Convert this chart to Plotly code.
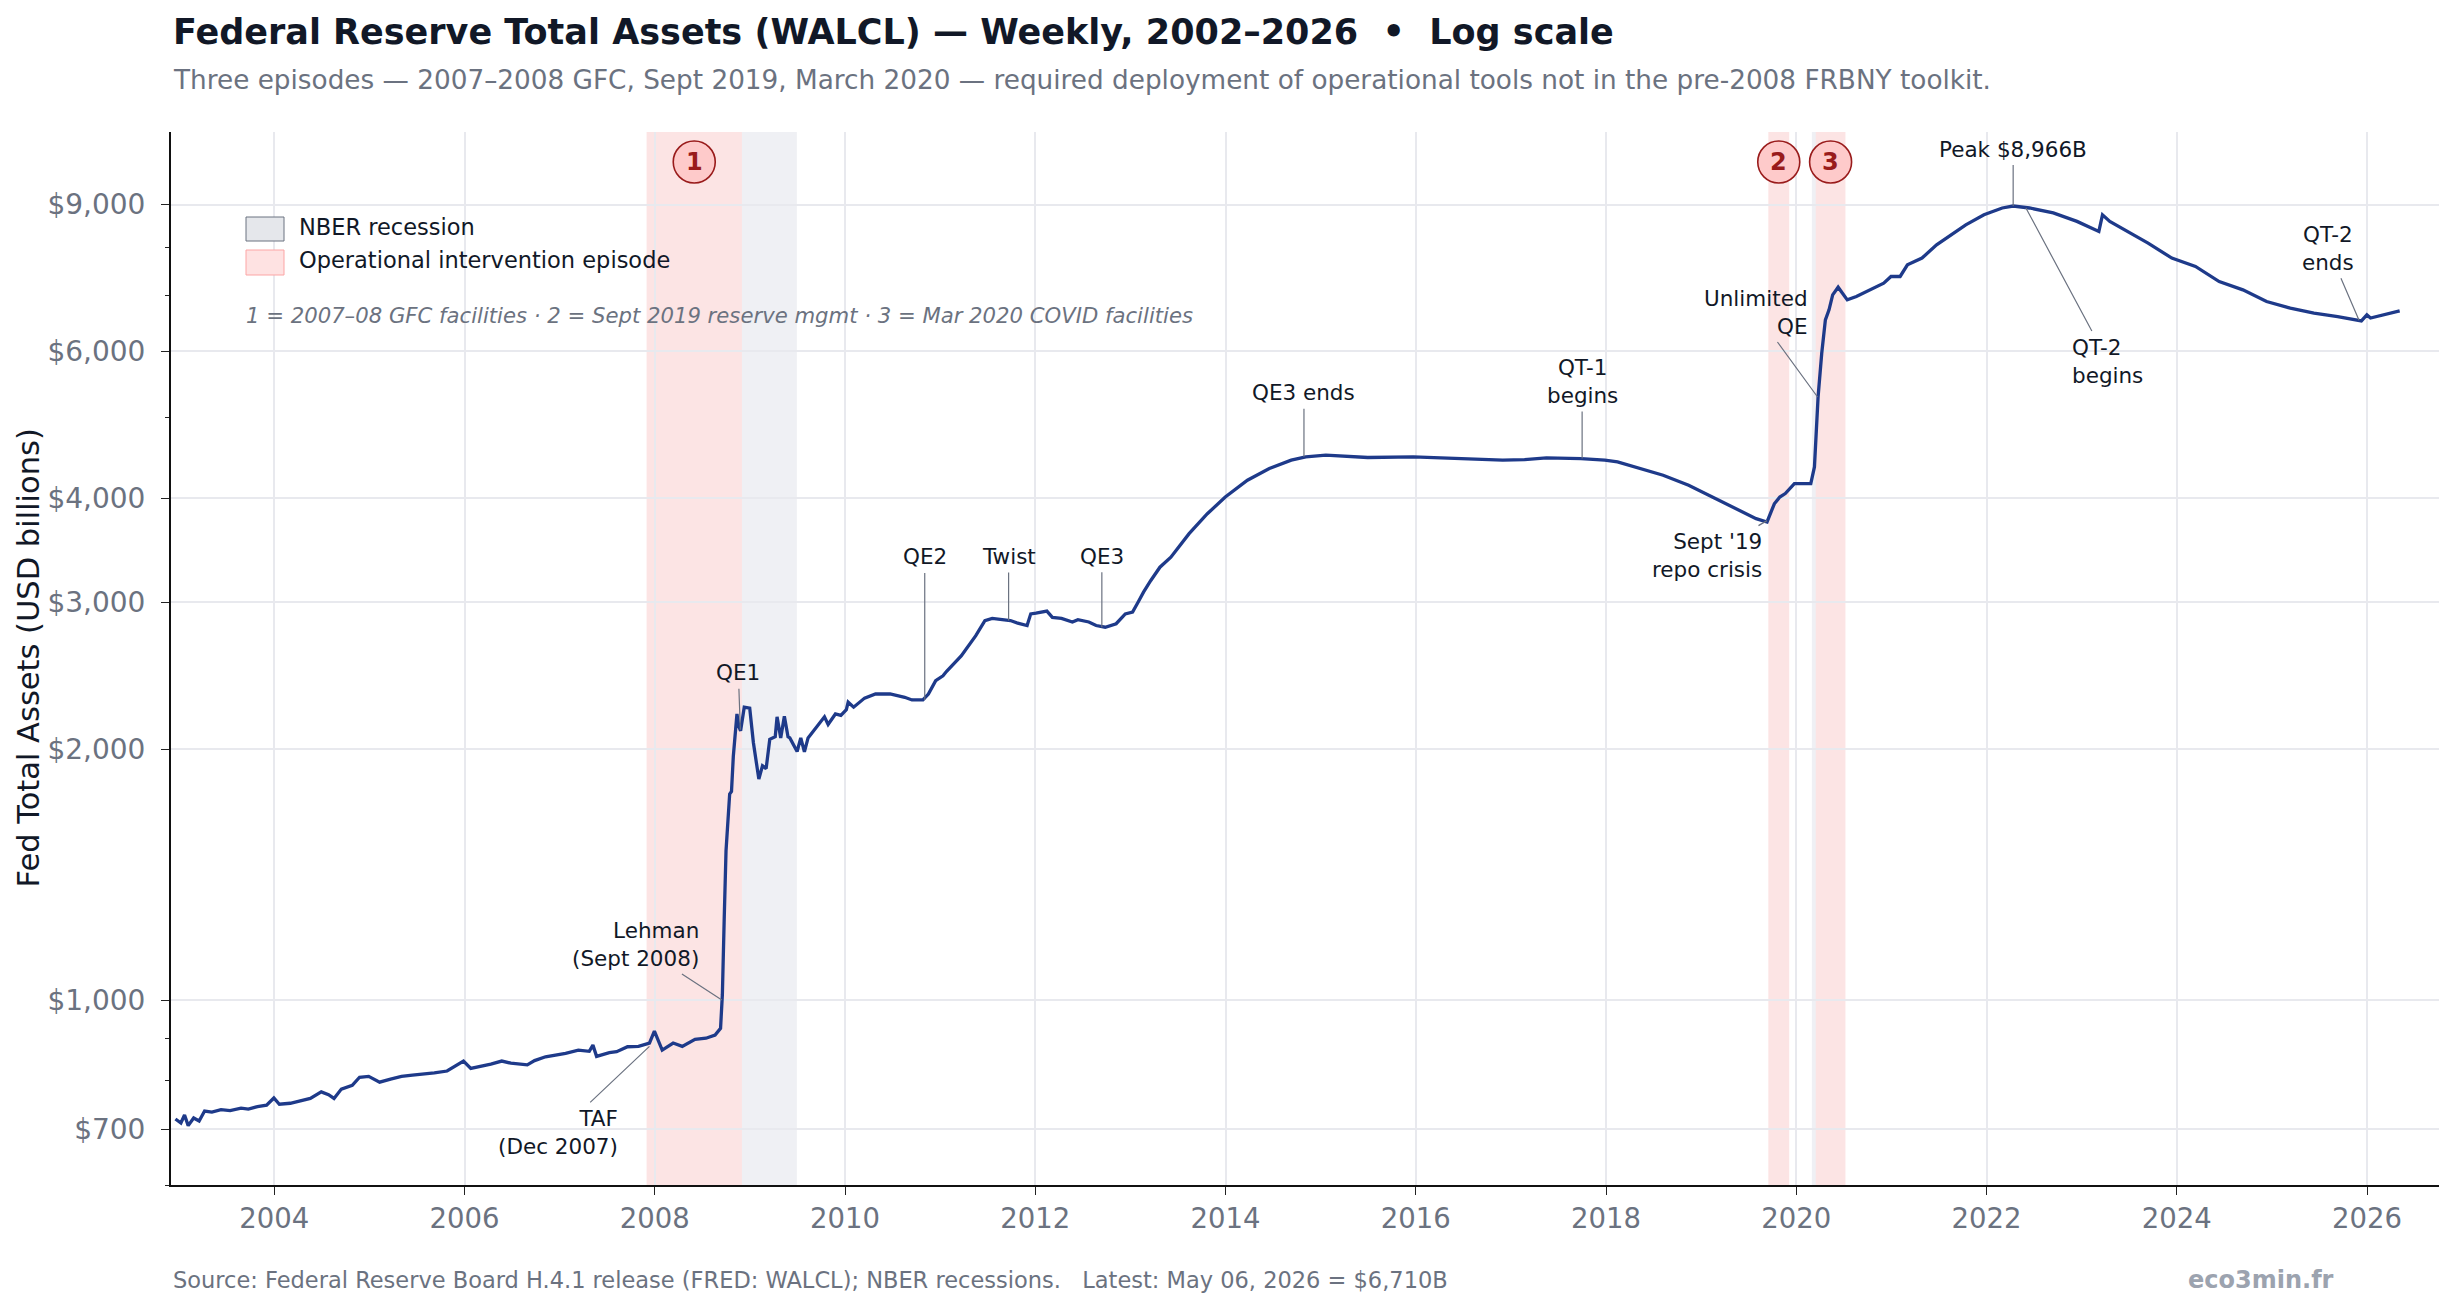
import math
import plotly.graph_objects as go

# ---------------- data (USD billions, weekly WALCL) ----------------
dates = [
    "2002-12-18", "2003-01-08", "2003-01-22", "2003-02-05", "2003-02-26", "2003-03-19",
    "2003-04-09", "2003-05-07", "2003-06-11", "2003-07-16", "2003-08-27", "2003-09-24",
    "2003-10-29", "2003-12-03", "2003-12-31", "2004-01-21", "2004-03-03", "2004-04-14",
    "2004-05-19", "2004-06-30", "2004-07-28", "2004-08-18", "2004-09-15", "2004-10-27",
    "2004-11-24", "2004-12-29", "2005-02-09", "2005-03-23", "2005-05-04", "2005-06-15",
    "2005-07-27", "2005-09-07", "2005-10-26", "2005-12-28", "2006-01-25", "2006-03-15",
    "2006-04-12", "2006-05-24", "2006-06-28", "2006-08-30", "2006-09-27", "2006-11-08",
    "2006-12-27", "2007-01-24", "2007-03-14", "2007-04-25", "2007-05-09", "2007-05-23",
    "2007-07-11", "2007-08-08", "2007-09-19", "2007-10-31", "2007-12-12", "2007-12-31",
    "2008-01-30", "2008-03-12", "2008-04-16", "2008-06-04", "2008-07-16", "2008-08-20",
    "2008-09-10", "2008-09-17", "2008-09-24", "2008-10-01", "2008-10-15", "2008-10-22",
    "2008-10-29", "2008-11-12", "2008-11-19", "2008-11-26", "2008-12-10", "2008-12-31",
    "2009-01-14", "2009-01-28", "2009-02-04", "2009-02-18", "2009-03-04", "2009-03-18",
    "2009-04-08", "2009-04-15", "2009-04-29", "2009-05-13", "2009-05-27", "2009-06-03",
    "2009-07-01", "2009-07-15", "2009-07-29", "2009-08-12", "2009-09-16", "2009-10-14",
    "2009-10-28", "2009-11-25", "2009-12-16", "2010-01-06", "2010-01-13", "2010-02-03",
    "2010-03-17", "2010-04-28", "2010-06-23", "2010-08-18", "2010-09-15", "2010-10-27",
    "2010-11-17", "2010-12-15", "2011-01-12", "2011-01-26", "2011-03-23", "2011-05-18",
    "2011-06-22", "2011-07-20", "2011-09-28", "2011-10-26", "2011-12-01", "2011-12-15",
    "2012-01-04", "2012-02-15", "2012-03-07", "2012-04-11", "2012-05-23", "2012-06-13",
    "2012-07-25", "2012-08-22", "2012-09-26", "2012-11-07", "2012-12-12", "2013-01-09",
    "2013-01-30", "2013-02-20", "2013-03-20", "2013-04-24", "2013-06-05", "2013-08-14",
    "2013-10-23", "2013-12-31", "2014-03-26", "2014-06-18", "2014-09-10", "2014-11-05",
    "2015-01-21", "2015-07-01", "2015-12-23", "2016-06-08", "2016-11-30", "2017-02-22",
    "2017-05-17", "2017-09-27", "2017-12-27", "2018-02-14", "2018-04-25", "2018-08-08",
    "2018-11-14", "2019-02-27", "2019-05-22", "2019-07-31", "2019-09-11", "2019-09-25",
    "2019-10-09", "2019-10-30", "2019-11-20", "2019-12-25", "2020-02-26", "2020-03-11",
    "2020-03-25", "2020-04-08", "2020-04-22", "2020-05-06", "2020-05-20", "2020-06-10",
    "2020-07-15", "2020-08-19", "2020-10-14", "2020-12-02", "2020-12-30", "2021-02-03",
    "2021-03-03", "2021-04-28", "2021-06-23", "2021-08-18", "2021-10-13", "2021-12-22",
    "2022-03-02", "2022-04-13", "2022-06-15", "2022-09-14", "2022-12-14", "2023-03-08",
    "2023-03-22", "2023-04-19", "2023-06-14", "2023-09-13", "2023-12-13", "2024-03-13",
    "2024-06-12", "2024-09-11", "2024-12-11", "2025-03-12", "2025-06-11", "2025-09-10",
    "2025-12-10", "2025-12-31", "2026-01-14", "2026-03-11", "2026-05-06",
]
values = [
    720, 712, 728, 707, 722, 716,
    736, 734, 739, 737, 742, 740,
    745, 748, 763, 750, 752, 758,
    762, 776, 770, 762, 782, 790,
    808, 810, 797, 804, 810, 813,
    815, 818, 822, 845, 828, 834,
    838, 845, 840, 836, 846, 855,
    860, 863, 871, 868, 883, 856,
    865, 867, 879, 880, 888, 918,
    871, 888, 880, 897, 900, 908,
    925, 1015, 1250, 1510, 1767, 1780,
    1960, 2204, 2130, 2104, 2246, 2240,
    2037, 1900, 1841, 1910, 1895, 2055,
    2070, 2187, 2063, 2190, 2070, 2063,
    1987, 2063, 1985, 2063, 2133, 2187,
    2141, 2204, 2195, 2230, 2277, 2246,
    2303, 2329, 2329, 2308, 2291, 2291,
    2329, 2417, 2449, 2480, 2587, 2736,
    2853, 2870, 2853, 2832, 2814, 2906,
    2912, 2928, 2878, 2870, 2842, 2860,
    2842, 2814, 2801, 2828, 2906, 2920,
    3001, 3086, 3187, 3306, 3399, 3627,
    3832, 4013, 4204, 4342, 4443, 4484,
    4505, 4476, 4484, 4463, 4443, 4450,
    4471, 4463, 4443, 4422, 4361, 4262,
    4146, 3995, 3869, 3780, 3746, 3835,
    3939, 4013, 4052, 4165, 4165, 4361,
    5293, 5970, 6546, 6730, 7015, 7165,
    6918, 6982, 7112, 7244, 7380, 7380,
    7621, 7765, 8054, 8280, 8512, 8751,
    8917, 8966, 8917, 8797, 8593, 8358,
    8751, 8593, 8398, 8093, 7765, 7588,
    7278, 7112, 6887, 6761, 6668, 6607,
    6528, 6637, 6580, 6637, 6710,
]

nber_starts = ["2008-01-01", "2020-03-01"]
nber_ends = ["2009-06-30", "2020-04-30"]
episode_starts = ["2007-12-01", "2019-09-16", "2020-03-16"]
episode_ends = ["2008-12-01", "2019-12-05", "2020-07-08"]
episode_centers = ["2008-06-01", "2019-10-26", "2020-05-12"]
episode_labels = ["1", "2", "3"]

y_tickvals = [700, 1000, 2000, 3000, 4000, 6000, 9000]
y_ticktext = ["$700", "$1,000", "$2,000", "$3,000", "$4,000", "$6,000", "$9,000"]
y_minor = [600, 800, 900, 5000, 7000, 8000]

ann_labels = ["TAF<br>(Dec 2007)", "Lehman<br>(Sept 2008)", "QE1", "QE2", "Twist", "QE3",
              "QE3 ends", "QT-1<br>begins", "Sept '19<br>repo crisis", "Unlimited<br>QE",
              "Peak $8,966B", "QT-2<br>begins", "QT-2<br>ends"]
ann_dates = ["2007-12-12", "2008-09-15", "2008-11-25", "2010-11-03", "2011-09-21", "2012-09-13",
             "2014-10-29", "2017-10-01", "2019-09-11", "2020-03-23",
             "2022-04-13", "2022-06-01", "2025-12-01"]
ann_values = [880, 1000, 2110, 2291, 2853, 2801, 4484, 4463, 3760, 5290, 8966, 8917, 6540]

# ---------------- styling / placement ----------------
ann_offsets = [(-91, 86, "right"), (-86, -56, "right"), (-2, -57, "center"), (0, -143, "center"),
               (0, -64, "center"), (0, -71, "center"), (0, -64, "center"), (0, -77, "center"),
               (-60, 35, "right"), (-62, -85, "right"), (0, -57, "center"), (82, 153, "left"),
               (-31, -72, "center")]

FONT = "DejaVu Sans"
W, H = 2456, 1310
L, R, T, B = 171, 17, 132, 125
PW, PH = W - L - R, H - T - B


def px_x(px):
    return (px - L) / PW


def px_y(py):
    return (H - B - py) / PH


fig = go.Figure()
fig.add_trace(go.Scatter(x=dates, y=values, mode="lines",
                         line=dict(color="#1e3a8a", width=3.3), hoverinfo="x+y",
                         showlegend=False))

shapes = []
for s, e in zip(nber_starts, nber_ends):
    shapes.append(dict(type="rect", xref="x", yref="paper", x0=s, x1=e, y0=0, y1=1,
                       fillcolor="#eff0f4", line=dict(width=0), layer="between"))
for s, e in zip(episode_starts, episode_ends):
    shapes.append(dict(type="rect", xref="x", yref="paper", x0=s, x1=e, y0=0, y1=1,
                       fillcolor="#fce4e4", line=dict(width=0), layer="between"))

annotations = []
cy = px_y(162)
for c, lab in zip(episode_centers, episode_labels):
    shapes.append(dict(type="circle", xref="x", yref="paper", xsizemode="pixel",
                       ysizemode="pixel", xanchor=c, yanchor=cy, x0=-21, x1=21, y0=-21, y1=21,
                       fillcolor="#fecaca", line=dict(color="#991b1b", width=1.6), layer="above"))
    annotations.append(dict(x=c, y=cy, xref="x", yref="paper", text="<b>%s</b>" % lab,
                            showarrow=False, font=dict(family=FONT, size=24, color="#991b1b"),
                            xanchor="center", yanchor="middle"))

# legend (manual)
shapes.append(dict(type="rect", xref="paper", yref="paper", x0=px_x(246), x1=px_x(284),
                   y0=px_y(241), y1=px_y(217), fillcolor="#e5e7eb",
                   line=dict(color="#6b7280", width=1)))
shapes.append(dict(type="rect", xref="paper", yref="paper", x0=px_x(246), x1=px_x(284),
                   y0=px_y(275), y1=px_y(250), fillcolor="#fee2e2",
                   line=dict(color="#fca5a5", width=1)))
annotations.append(dict(xref="paper", yref="paper", x=px_x(297), y=px_y(227),
                        text="NBER recession", showarrow=False, xanchor="left", yanchor="middle",
                        font=dict(family=FONT, size=22.5, color="#111827")))
annotations.append(dict(xref="paper", yref="paper", x=px_x(297), y=px_y(260),
                        text="Operational intervention episode", showarrow=False, xanchor="left",
                        yanchor="middle", font=dict(family=FONT, size=22.5, color="#111827")))
annotations.append(dict(xref="paper", yref="paper", x=px_x(244), y=px_y(315),
                        text="<i>1 = 2007–08 GFC facilities · 2 = Sept 2019 reserve mgmt · "
                             "3 = Mar 2020 COVID facilities</i>",
                        showarrow=False, xanchor="left", yanchor="middle",
                        font=dict(family=FONT, size=21.2, color="#6b7280")))

# event annotations
for lab, d, v, (ax, ay, al) in zip(ann_labels, ann_dates, ann_values, ann_offsets):
    annotations.append(dict(x=d, y=math.log10(v), xref="x", yref="y", text=lab,
                            showarrow=True, arrowhead=0, arrowwidth=1.2, arrowcolor="#6b7280",
                            ax=ax, ay=ay, align=al, borderpad=3, standoff=0,
                            font=dict(family=FONT, size=21.5, color="#111827")))

# titles / footer
annotations.append(dict(xref="paper", yref="paper", x=0, y=px_y(32), xanchor="left",
                        yanchor="middle", showarrow=False,
                        text="<b>Federal Reserve Total Assets (WALCL) — Weekly, 2002–2026  •  Log scale</b>",
                        font=dict(family=FONT, size=35, color="#111827")))
annotations.append(dict(xref="paper", yref="paper", x=0, y=px_y(80), xanchor="left",
                        yanchor="middle", showarrow=False,
                        text="Three episodes — 2007–2008 GFC, Sept 2019, March 2020 — required "
                             "deployment of operational tools not in the pre-2008 FRBNY toolkit.",
                        font=dict(family=FONT, size=26.3, color="#6b7280")))
annotations.append(dict(xref="paper", yref="paper", x=0, y=px_y(1280), xanchor="left",
                        yanchor="middle", showarrow=False,
                        text="Source: Federal Reserve Board H.4.1 release (FRED: WALCL); NBER "
                             "recessions.\u00a0\u00a0 Latest: May 06, 2026 = $6,710B",
                        font=dict(family=FONT, size=22.5, color="#6b7280")))
annotations.append(dict(xref="paper", yref="paper", x=px_x(2336), y=px_y(1280), xanchor="right",
                        yanchor="middle", showarrow=False, text="<b>eco3min.fr</b>",
                        font=dict(family=FONT, size=24, color="#9ca3af")))
annotations.append(dict(xref="paper", yref="paper", x=px_x(28), y=0.5, xanchor="center",
                        yanchor="middle", showarrow=False, textangle=-90,
                        text="Fed Total Assets (USD billions)",
                        font=dict(family=FONT, size=30.5, color="#111827")))

fig.update_layout(
    width=W, height=H, autosize=False,
    margin=dict(l=L, r=R, t=T, b=B, pad=0),
    paper_bgcolor="white", plot_bgcolor="white",
    font=dict(family=FONT, size=20, color="#111827"),
    shapes=shapes, annotations=annotations,
    xaxis=dict(type="date", range=["2002-12-01", "2026-10-04"], tick0="2004-01-01", dtick="M24",
               tickformat="%Y", showgrid=True, gridcolor="#e8e9ee", gridwidth=1.5,
               showline=True, linecolor="#111111", linewidth=2, ticks="outside", ticklen=8,
               tickwidth=1.4, tickcolor="#222222", zeroline=False,
               tickfont=dict(family=FONT, size=27.5, color="#6b7280")),
    yaxis=dict(type="log", range=[math.log10(600), math.log10(11000)], tickmode="array",
               tickvals=y_tickvals, ticktext=y_ticktext, showgrid=True, gridcolor="#e8e9ee",
               gridwidth=1.5, showline=True, linecolor="#111111", linewidth=2, ticks="outside",
               ticklen=8, tickwidth=1.4, tickcolor="#222222", zeroline=False,
               ticklabelstandoff=10,
               minor=dict(tickmode="array", tickvals=y_minor, ticks="outside", ticklen=4,
                          tickwidth=1.2, tickcolor="#222222", showgrid=False),
               tickfont=dict(family=FONT, size=28, color="#6b7280")),
)

fig.write_html("out.html")
